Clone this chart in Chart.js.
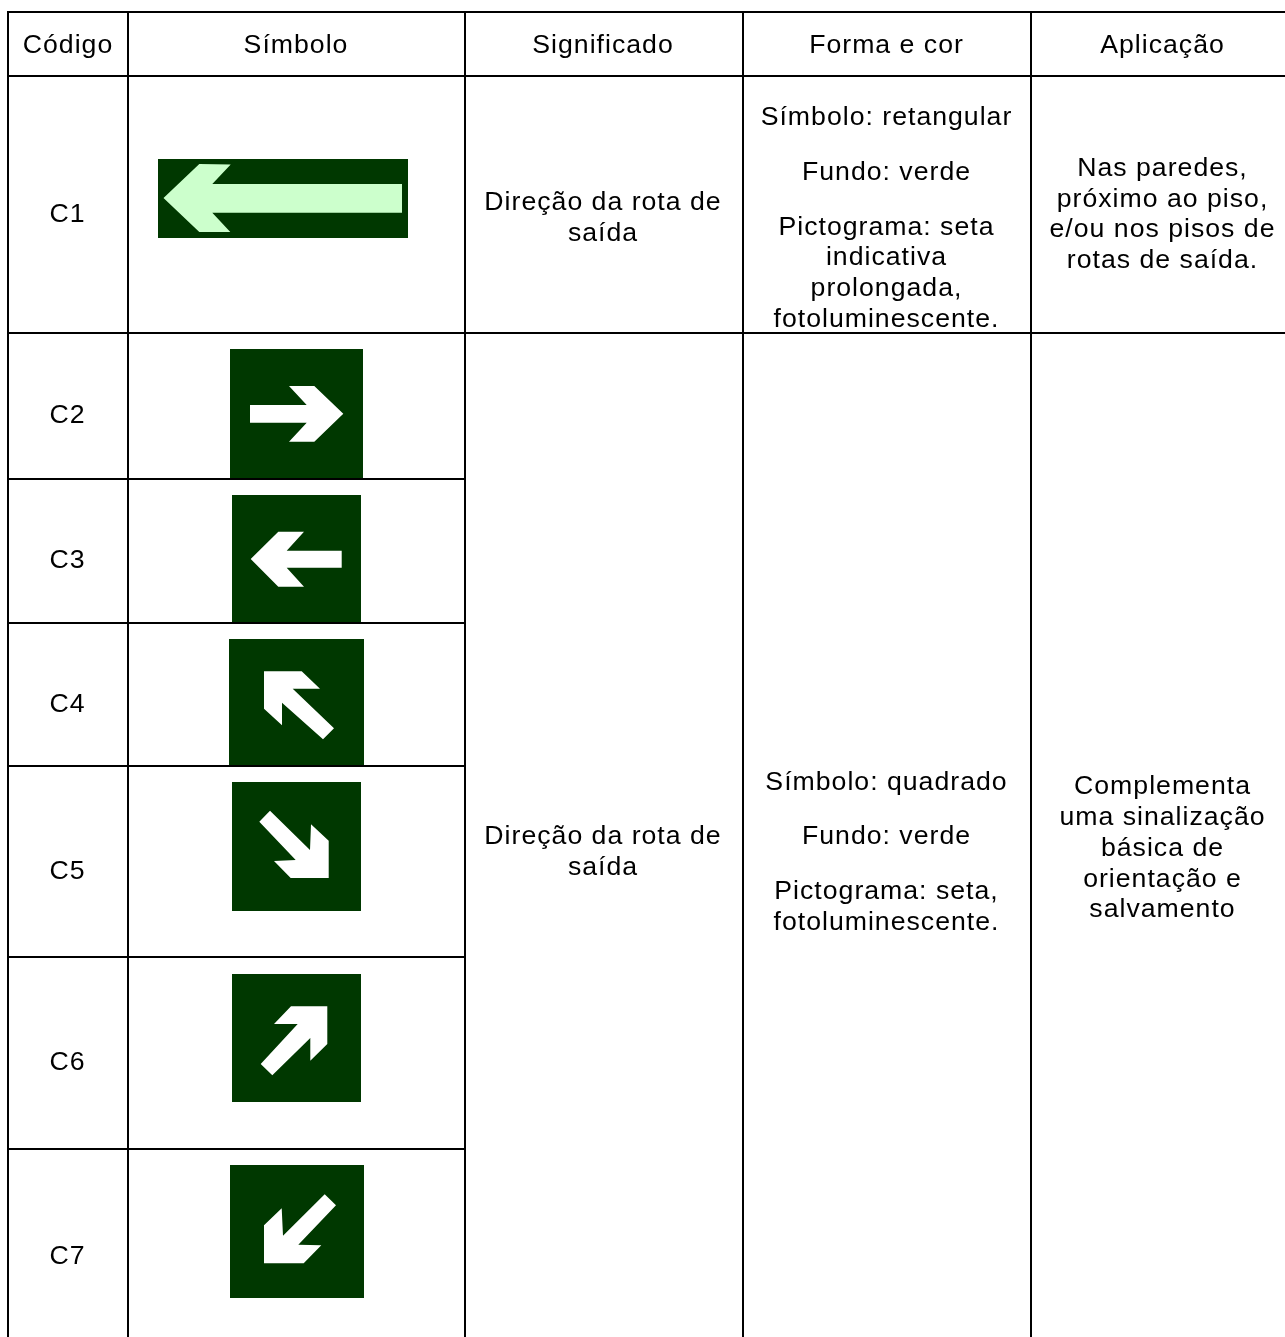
<!DOCTYPE html>
<html lang="pt"><head><meta charset="utf-8"><title>Sinalização</title>
<style>html,body{margin:0;padding:0;background:#fff}canvas{display:block}</style>
<script src="https://cdn.jsdelivr.net/npm/chart.js@4"></script></head><body>
<canvas id="c" width="1285" height="1337"></canvas>
<script>
const headers = ["Código","Símbolo","Significado","Forma e cor","Aplicação"];
const codes = ["C1","C2","C3","C4","C5","C6","C7"];
const codeBaselines = [222,423,568,712,879,1070,1264];
const headerCenters = [68,296,603,886.5,1162.5];
const meaningLines = ["Direção da rota de","saída"];
const shapeC1 = ["Símbolo: retangular","Fundo: verde","Pictograma: seta","indicativa","prolongada,","fotoluminescente."];
const shapeC1Base = [125,180,235,265,296,327];
const applyC1 = ["Nas paredes,","próximo ao piso,","e/ou nos pisos de","rotas de saída."];
const applyC1Base = [176,206.7,237.4,268];
const shapeRest = ["Símbolo: quadrado","Fundo: verde","Pictograma: seta,","fotoluminescente."];
const shapeRestBase = [790,844,899,930];
const applyRest = ["Complementa","uma sinalização","básica de","orientação e","salvamento"];
const applyRestBase = [794,825,856,887,917];

const vLines = [[8,12,1337],[128,12,1337],[465,12,1337],[743,12,1337],[1031,12,1337]];
const hLines = [[12,7,1285],[76,7,1285],[333,7,1285],[479,7,465],[623,7,465],[766,7,465],[957,7,465],[1149,7,465]];
const boxes = [[158,159,408,238],[230,349,363,478],[232,495,361,622],[229,639,364,765],[232,782,361,911],[232,974,361,1102],[230,1165,364,1298]];
const arrowC1 = [[163.5,198],[199.3,164],[230.7,164.5],[212.3,184],[402,184],[402,212.7],[212.3,212.7],[230.3,232],[199.3,232]];
const arrowC2 = [[250,405],[306.7,405],[289,386],[314.3,386],[343.3,413.7],[314.3,441.7],[289,441.7],[306.7,422.7],[250,422.7]];
const arrowC3 = [[250.7,559],[278.3,531.7],[304,531.7],[286.7,550.7],[341.7,550.7],[341.7,567.7],[286.7,567.7],[304,586.7],[278.3,586.7]];
const arrowC4 = [[264,671.3],[301.7,671.3],[320,688.7],[292.7,688.7],[334,728.3],[323,739.3],[282,702.7],[282,725.3],[264,708.7]];
const arrowC5 = [[270,810.7],[259.3,821.7],[295.7,860],[274,861],[290.7,878],[328.7,878],[328.7,840.7],[311,824.3],[310,850]];
const arrowC6 = [[260.7,1064],[272.3,1075.3],[310.3,1038],[310.3,1060.7],[327.3,1044],[327.3,1006.3],[291,1006.3],[274,1024],[297.7,1024]];
const arrowC7 = [[324.7,1194.3],[336,1205.3],[298.3,1244.7],[321.3,1245.3],[303.7,1263.3],[264,1263.3],[264,1225.3],[281.7,1208.3],[283,1235.7]];

const GREEN="#003800", BLACK="#000";
const pts = a => a.map(p=>({x:p[0],y:p[1]}));
const closed = a => pts(a.concat([a[0]]));
const datasets = [];
const poly = (a,color,order) => datasets.push({data:closed(a),showLine:true,fill:'shape',backgroundColor:color,borderWidth:0,pointRadius:0,tension:0,order,clip:false});
boxes.forEach(b=>poly([[b[0],b[1]],[b[2],b[1]],[b[2],b[3]],[b[0],b[3]]],GREEN,3));
poly(arrowC1,"#ccffcc",2);
[arrowC2,arrowC3,arrowC4,arrowC5,arrowC6,arrowC7].forEach(a=>poly(a,"#ffffff",2));
const line = (a) => datasets.push({data:pts(a),showLine:true,fill:false,borderColor:BLACK,borderWidth:2,pointRadius:0,tension:0,order:1,clip:false,borderCapStyle:'butt'});
vLines.forEach(l=>line([[l[0],l[1]],[l[0],l[2]]]));
hLines.forEach(l=>line([[l[1],l[0]],[l[2],l[0]]]));

const FONT='26.67px "Liberation Sans", Arial, sans-serif', SPACING='1px';
const textPlugin={id:'tableText',afterDraw(chart){
  const {ctx,scales:{x,y}}=chart;
  ctx.save();ctx.font=FONT;ctx.fillStyle="#000";ctx.textAlign='center';ctx.textBaseline='alphabetic';
  if('letterSpacing' in ctx)ctx.letterSpacing=SPACING;
  const put=(t,cx,by)=>ctx.fillText(t,x.getPixelForValue(cx),y.getPixelForValue(by));
  headers.forEach((t,i)=>put(t,headerCenters[i],53));
  codes.forEach((t,i)=>put(t,67.5,codeBaselines[i]));
  meaningLines.forEach((t,i)=>put(t,603,210+i*31));
  meaningLines.forEach((t,i)=>put(t,603,844+i*31));
  shapeC1.forEach((t,i)=>put(t,886.5,shapeC1Base[i]));
  applyC1.forEach((t,i)=>put(t,1162.5,applyC1Base[i]));
  shapeRest.forEach((t,i)=>put(t,886.5,shapeRestBase[i]));
  applyRest.forEach((t,i)=>put(t,1162.5,applyRestBase[i]));
  ctx.restore();
}};
new Chart(document.getElementById('c'),{type:'scatter',data:{datasets},plugins:[textPlugin],options:{
  responsive:false,animation:false,events:[],layout:{padding:0},
  plugins:{legend:{display:false},tooltip:{enabled:false},title:{display:false}},
  scales:{x:{type:'linear',display:false,min:0,max:1285},y:{type:'linear',display:false,reverse:true,min:0,max:1337}}
}});
</script></body></html>
